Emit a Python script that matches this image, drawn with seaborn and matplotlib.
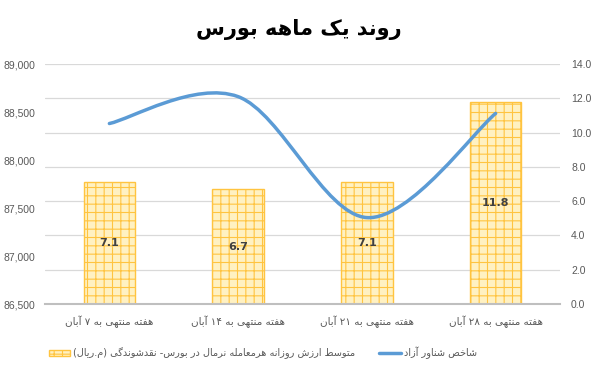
import re
import numpy as np
import matplotlib
matplotlib.use("Agg")
import matplotlib.pyplot as plt
from matplotlib.path import Path
from matplotlib.patches import PathPatch
from matplotlib.lines import Line2D
from matplotlib.patches import Patch
import seaborn as sns

# ======================
# DATA
# ======================
weeks = ["هفته منتهی به ۷ آبان", "هفته منتهی به ۱۴ آبان",
         "هفته منتهی به ۲۱ آبان", "هفته منتهی به ۲۸ آبان"]
liquidity = [7.1, 6.7, 7.1, 11.8]          # right axis, bars
free_float_index = [88380, 88660, 87400, 88485]  # left axis, line

title = "روند یک ماهه بورس"
bar_label = "متوسط ارزش روزانه هرمعامله نرمال در بورس- نقدشوندگی (م.ریال)"
line_label = "شاخص شناور آزاد"

left_ticks = [86500, 87000, 87500, 88000, 88500, 89000]
right_ticks = [0, 2, 4, 6, 8, 10, 12, 14]

# ======================
# PERSIAN SHAPING (no arabic_reshaper available)
# ======================
FORMS = {
    "ا": ("\uFE8D", "\uFE8E", None, None),
    "آ": ("\uFE81", "\uFE82", None, None),
    "ب": ("\uFE8F", "\uFE90", "\uFE91", "\uFE92"),
    "ت": ("\uFE95", "\uFE96", "\uFE97", "\uFE98"),
    "خ": ("\uFEA5", "\uFEA6", "\uFEA7", "\uFEA8"),
    "د": ("\uFEA9", "\uFEAA", None, None),
    "ر": ("\uFEAD", "\uFEAE", None, None),
    "ز": ("\uFEAF", "\uFEB0", None, None),
    "س": ("\uFEB1", "\uFEB2", "\uFEB3", "\uFEB4"),
    "ش": ("\uFEB5", "\uFEB6", "\uFEB7", "\uFEB8"),
    "ص": ("\uFEB9", "\uFEBA", "\uFEBB", "\uFEBC"),
    "ط": ("\uFEC1", "\uFEC2", "\uFEC3", "\uFEC4"),
    "ع": ("\uFEC9", "\uFECA", "\uFECB", "\uFECC"),
    "ف": ("\uFED1", "\uFED2", "\uFED3", "\uFED4"),
    "ق": ("\uFED5", "\uFED6", "\uFED7", "\uFED8"),
    "ل": ("\uFEDD", "\uFEDE", "\uFEDF", "\uFEE0"),
    "م": ("\uFEE1", "\uFEE2", "\uFEE3", "\uFEE4"),
    "ن": ("\uFEE5", "\uFEE6", "\uFEE7", "\uFEE8"),
    "ه": ("\uFEE9", "\uFEEA", "\uFEEB", "\uFEEC"),
    "و": ("\uFEED", "\uFEEE", None, None),
    "ی": ("\uFBFC", "\uFBFD", "\uFBFE", "\uFBFF"),
    "ک": ("\uFB8E", "\uFB8F", "\uFB90", "\uFB91"),
    "گ": ("\uFB92", "\uFB93", "\uFB94", "\uFB95"),
}


def shape(text):
    out = []
    for i, c in enumerate(text):
        if c not in FORMS:
            out.append(c)
            continue
        prev = text[i - 1] if i > 0 else None
        nxt = text[i + 1] if i + 1 < len(text) else None
        jp = prev in FORMS and FORMS[prev][2] is not None
        jn = FORMS[c][2] is not None and nxt in FORMS
        iso, fin, ini, med = FORMS[c]
        out.append(med if jp and jn else fin if jp else ini if jn else iso)
    return "".join(out)


def fa(text):
    runs = re.findall(r"[0-9۰-۹]+|[^0-9۰-۹]", shape(text))[::-1]
    mirror = {"(": ")", ")": "("}
    return "".join(mirror.get(r, r) for r in runs)


# ======================
# PLOT
# ======================
sns.set_style("white")
plt.rcParams["font.family"] = ["DejaVu Sans"]
plt.rcParams["hatch.linewidth"] = 0.8

GREY = "#595959"
BAR_FACE = "#FFF1C2"
BAR_C = "#FFC440"
LINE_C = "#5B9BD5"
NUM_FONT = "Liberation Sans"

fig = plt.figure(figsize=(5.97, 3.69), dpi=100)
ax = fig.add_axes([45 / 597, 1 - 304 / 369, 515 / 597, 240 / 369])

labels = [fa(w) for w in weeks]
sns.barplot(x=labels, y=liquidity, ax=ax, color=BAR_FACE, width=0.4,
            edgecolor=BAR_C, linewidth=1.0, hatch="++", saturation=1)

# line on left axis (drawn above bars)
ax2 = ax.twinx()
ax.yaxis.tick_right()
ax2.yaxis.tick_left()

ax.set_xlim(-0.5, 3.5)
ax.set_ylim(0, 14)
ax.set_yticks(right_ticks)
ax.set_yticklabels([f"{v:.1f}" for v in right_ticks], family=NUM_FONT)
ax.grid(axis="y", color="#D9D9D9", linewidth=0.9)
ax.set_axisbelow(True)
for s in ["top", "left", "right"]:
    ax.spines[s].set_visible(False)
ax.spines["bottom"].set_color("#BFBFBF")
ax.spines["bottom"].set_linewidth(1.5)
ax.tick_params(axis="both", length=0, colors=GREY, labelsize=7.5)
ax.tick_params(axis="x", pad=8)
ax.tick_params(axis="y", pad=8)

for x, v in enumerate(liquidity):
    ax.text(x, v / 2, f"{v:.1f}", ha="center", va="center",
            fontsize=8, fontweight="bold", color="#404040")

ax2.set_ylim(86500, 89000)
ax2.set_yticks(left_ticks)
ax2.set_yticklabels([f"{v:,}" for v in left_ticks], family=NUM_FONT)
ax2.tick_params(axis="y", length=0, colors=GREY, labelsize=7.5, pad=7)
for s in ax2.spines.values():
    s.set_visible(False)

# smoothed line (Excel-style bezier through the data points)
pts = np.column_stack([np.arange(len(free_float_index)), free_float_index]).astype(float)
verts = [pts[0]]
codes = [Path.MOVETO]
n = len(pts)
for i in range(n - 1):
    p0 = pts[max(i - 1, 0)]
    p1 = pts[i]
    p2 = pts[i + 1]
    p3 = pts[min(i + 2, n - 1)]
    verts += [p1 + (p2 - p0) / 6, p2 - (p3 - p1) / 6, p2]
    codes += [Path.CURVE4] * 3
ax2.add_patch(PathPatch(Path(verts, codes), facecolor="none",
                        edgecolor=LINE_C, linewidth=2.5, capstyle="round"))

fig.text(0.5, 1 - 30 / 369, fa(title), ha="center", va="center",
         fontsize=15, fontweight="bold", color="black")

handles = [Patch(facecolor=BAR_FACE, edgecolor=BAR_C, hatch="++"),
           Line2D([0], [0], color=LINE_C, linewidth=2.5)]
fig.legend(handles, [fa(bar_label), fa(line_label)], loc="center",
           bbox_to_anchor=(0.44, 1 - 353 / 369), ncol=2, frameon=False,
           fontsize=7, labelcolor=GREY, columnspacing=2.5,
           handlelength=2.2, handletextpad=0.3)

fig.savefig("out.png", dpi=100)
